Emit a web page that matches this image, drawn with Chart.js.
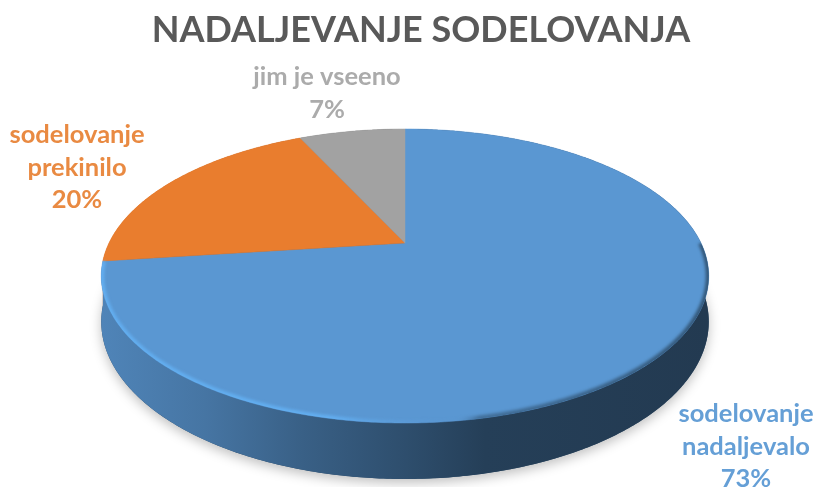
<!DOCTYPE html>
<html>
<head>
<meta charset="utf-8">
<style>
  html, body { margin: 0; padding: 0; background: #fff; }
  canvas { display: block; }
</style>
<script src="https://cdn.jsdelivr.net/npm/chart.js@4"></script>
</head>
<body>
<canvas id="pie" width="813" height="487"></canvas>
<script>
const chartTitle = 'NADALJEVANJE SODELOVANJA';
const categories = [['sodelovanje', 'nadaljevalo'], ['sodelovanje', 'prekinilo'], ['jim je vseeno']];
const percents = [73, 20, 7];
const sliceColors = ['#5a97d2', '#e97d2e', '#a2a2a2'];
const labelColors = ['#659fd6', '#e98a42', '#ababab'];
const labelAnchors = [[746, 414], [77, 135], [327, 77]];

// disk tilt: v is depth on the disk (-1 back, +1 front), nearer points get bigger
const NEAR = 0.2245;
const SPREAD_X = 1.218;
const SPREAD_Y = 0.5745;
const DEPTH = 0.1786;

function project(el, angle, drop) {
    const u = Math.cos(angle), v = Math.sin(angle);
    const f = 1 / (1 - NEAR * v);
    const r = el.outerRadius;
    return {
        x: el.x + r * SPREAD_X * u * f,
        y: el.y + r * SPREAD_Y * v * f + (drop ? r * DEPTH * f : 0)
    };
}

function traceRim(ctx, el, from, to, drop, moveFirst) {
    const steps = Math.max(2, Math.ceil(Math.abs(to - from) / 0.01));
    for (let i = 0; i <= steps; i++) {
        const p = project(el, from + (to - from) * i / steps, drop);
        if (i === 0 && moveFirst) ctx.moveTo(p.x, p.y);
        else ctx.lineTo(p.x, p.y);
    }
}

function shade(hex, k) {
    const n = parseInt(hex.slice(1), 16);
    return `rgb(${((n >> 16) & 255) * k | 0},${((n >> 8) & 255) * k | 0},${(n & 255) * k | 0})`;
}

function wallGradient(ctx, color) {
    const g = ctx.createLinearGradient(102, 0, 710, 0);
    g.addColorStop(0, shade(color, 0.88));
    g.addColorStop(0.17, shade(color, 0.78));
    g.addColorStop(0.33, shade(color, 0.64));
    g.addColorStop(0.5, shade(color, 0.52));
    g.addColorStop(0.63, shade(color, 0.42));
    g.addColorStop(1, shade(color, 0.39));
    return g;
}

const tiltedPie = {
    id: 'tiltedPie',
    beforeDatasetDraw(chart) {
        const ctx = chart.ctx;
        const arcs = chart.getDatasetMeta(0).data;
        const first = arcs[0];

        // soft shadow under the disk
        ctx.save();
        ctx.shadowColor = 'rgba(0,0,0,0.25)';
        ctx.shadowBlur = 12;
        ctx.shadowOffsetY = 4;
        ctx.fillStyle = '#2a4a68';
        ctx.beginPath();
        traceRim(ctx, first, 0, Math.PI * 2, true, true);
        ctx.closePath();
        ctx.fill();
        ctx.restore();

        // side wall, last slices first so the big one ends up in front
        for (let i = arcs.length - 1; i >= 0; i--) {
            const el = arcs[i];
            ctx.fillStyle = wallGradient(ctx, sliceColors[i]);
            ctx.beginPath();
            traceRim(ctx, el, el.startAngle, el.endAngle, false, true);
            traceRim(ctx, el, el.endAngle, el.startAngle, true, false);
            ctx.closePath();
            ctx.fill();
        }

        // top face
        arcs.forEach((el, i) => {
            ctx.fillStyle = sliceColors[i];
            ctx.strokeStyle = sliceColors[i];
            ctx.lineWidth = 0.5;
            ctx.beginPath();
            ctx.moveTo(el.x, el.y);
            traceRim(ctx, el, el.startAngle, el.endAngle, false, false);
            ctx.closePath();
            ctx.fill();
            ctx.stroke();
        });

        // bevel inside the front rim: bright on the left, dark on the right
        const bevel = ctx.createLinearGradient(102, 0, 710, 0);
        bevel.addColorStop(0, 'rgba(100,178,245,0.85)');
        bevel.addColorStop(0.38, 'rgba(100,178,245,0.85)');
        bevel.addColorStop(0.58, 'rgba(90,151,210,0)');
        bevel.addColorStop(0.62, 'rgba(36,62,85,0.45)');
        bevel.addColorStop(1, 'rgba(36,62,85,0.7)');
        ctx.save();
        ctx.beginPath();
        traceRim(ctx, first, 0, Math.PI * 2, false, true);
        ctx.closePath();
        ctx.clip();
        ctx.filter = 'blur(1.5px)';
        ctx.strokeStyle = bevel;
        ctx.lineWidth = 6;
        ctx.beginPath();
        traceRim(ctx, first, 0, first.endAngle, false, true);
        ctx.stroke();
        ctx.restore();

        return false;
    },
    afterDraw(chart) {
        const ctx = chart.ctx;
        ctx.save();
        ctx.textAlign = 'center';
        ctx.textBaseline = 'middle';
        ctx.fillStyle = '#595959';
        ctx.font = 'bold 36px Lato';
        ctx.fillText(chartTitle, 421, 30);
        ctx.font = 'bold 25.5px Lato';
        categories.forEach((lines, i) => {
            ctx.fillStyle = labelColors[i];
            const [x, y] = labelAnchors[i];
            lines.concat(percents[i] + '%').forEach((line, k) => {
                ctx.fillText(line, x, y + k * 32.5);
            });
        });
        ctx.restore();
    }
};

new Chart(document.getElementById('pie'), {
    type: 'pie',
    data: {
        labels: categories,
        datasets: [{ data: percents, backgroundColor: sliceColors, borderWidth: 0 }]
    },
    options: {
        responsive: false,
        animation: false,
        layout: { padding: { right: 3, bottom: 1 } },
        plugins: { legend: { display: false }, tooltip: { enabled: false }, title: { display: false } }
    },
    plugins: [tiltedPie]
});
</script>
</body>
</html>
